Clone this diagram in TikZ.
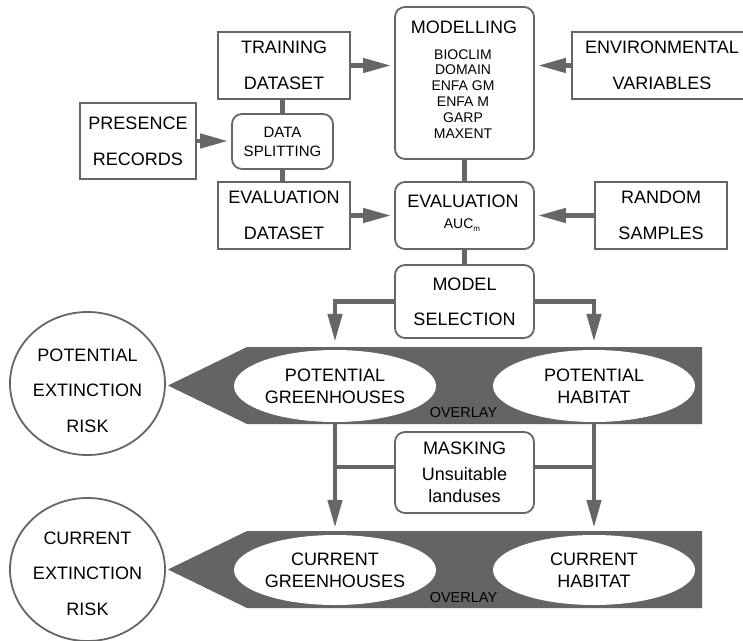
\documentclass[tikz,border=0pt]{standalone}
\usepackage{fontspec}
\setmainfont{Liberation Sans}
\usetikzlibrary{arrows.meta,shapes.geometric}
\definecolor{flowgray}{HTML}{666666}
\definecolor{bandgray}{HTML}{646464}

\begin{document}
\begin{tikzpicture}[x=1pt,y=-1pt,
  lab/.style={font=\fontsize{18}{36}\selectfont, align=center, text=black},
  sqbox/.style={draw=flowgray, line width=1.8pt, fill=white, inner sep=0pt, lab},
  rbox/.style={sqbox, rounded corners=10pt},
  link/.style={draw=flowgray, line width=4.5pt},
  flow/.style={link, -{Triangle[length=28pt,width=14pt]}, shorten >=3pt},
  blob/.style={ellipse, fill=white, inner sep=0pt, minimum width=202pt,
    minimum height=72pt, font=\fontsize{18}{22}\selectfont, align=center},
  risk/.style={ellipse, draw=flowgray, line width=1.8pt, fill=white,
    minimum width=155pt, minimum height=143pt, inner sep=0pt},
  overlaytext/.style={font=\fontsize{14.5}{16}\selectfont, anchor=base},
]
\clip (0,0) rectangle (743,640);
\fill[white] (0,0) rectangle (743,640);

% input boxes
\node[sqbox, minimum width=132pt, minimum height=67pt] (train) at (284,65.5) {TRAINING\\DATASET};
\node[sqbox, minimum width=116pt, minimum height=76pt] (pres) at (138,141) {PRESENCE\\RECORDS};
\node[rbox, minimum width=101pt, minimum height=55pt, font=\fontsize{15}{19}\selectfont] (split) at (282.5,141.5) {DATA\\SPLITTING};
\node[sqbox, minimum width=132pt, minimum height=67pt] (evald) at (284,215.5) {EVALUATION\\DATASET};
\node[sqbox, minimum width=180pt, minimum height=67pt] (env) at (662,65.5) {ENVIRONMENTAL\\VARIABLES};
\node[sqbox, minimum width=132pt, minimum height=67pt] (rand) at (661,215.5) {RANDOM\\SAMPLES};

% modelling box
\node[rbox, minimum width=139pt, minimum height=152pt] (model) at (464.5,83) {};
\node[lab, anchor=base] (modeltitle) at (464,33) {MODELLING};
\node[lab, font=\fontsize{14}{15.8}\selectfont] (modellist) at (463,93.8)
  {BIOCLIM\\DOMAIN\\ENFA GM\\ENFA M\\GARP\\MAXENT};

% evaluation box
\node[rbox, minimum width=139pt, minimum height=67pt] (evalm) at (464.5,215.5) {};
\node[lab, anchor=base] (evaltitle) at (463,207) {EVALUATION};
\node[lab, anchor=base, font=\fontsize{14}{16}\selectfont] (evalauc) at (462,228)
  {AUC\raisebox{-3pt}{\fontsize{8}{8}\selectfont m}};

% selection and masking
\node[rbox, minimum width=139pt, minimum height=73pt, font=\fontsize{18}{35}\selectfont] (msel) at (464.5,301.5) {MODEL\\SELECTION};
\node[rbox, minimum width=139pt, minimum height=81pt, font=\fontsize{18}{22}\selectfont] (mask) at (464.5,472.5) {MASKING\\[4pt]Unsuitable\\landuses};

% overlay bands
\fill[bandgray] (702,347) -- (247,347) -- (168,385.5) -- (247,424) -- (702,424) -- cycle;
\fill[bandgray] (702,531) -- (247,531) -- (168,569.5) -- (247,608) -- (702,608) -- cycle;

\node[blob] (pgh) at (335,386) {POTENTIAL\\GREENHOUSES};
\node[blob] (phab) at (594,386) {POTENTIAL\\HABITAT};
\node[blob, minimum height=70pt] (cgh) at (335,570) {CURRENT\\GREENHOUSES};
\node[blob, minimum height=70pt] (chab) at (594,570) {CURRENT\\HABITAT};
\node[overlaytext] (ov1) at (463.5,417) {OVERLAY};
\node[overlaytext] (ov2) at (463.5,602) {OVERLAY};

% extinction risk circles
\node[risk] (prisk) at (87.5,383.5) {};
\node[lab, font=\fontsize{18}{35.5}\selectfont] (prisktext) at (87.5,390.7) {POTENTIAL\\EXTINCTION\\RISK};
\node[risk] (crisk) at (87.5,569.5) {};
\node[lab, font=\fontsize{18}{35.5}\selectfont] (crisktext) at (87.5,573.3) {CURRENT\\EXTINCTION\\RISK};

% connectors
\draw[flow] (train.east) -- (train.east -| model.west);
\draw[flow] (env.west) -- (env.west -| model.east);
\draw[flow] (pres.east) -- (pres.east -| split.west);
\draw[link] (split.north) -- (split.north |- train.south);
\draw[link] (split.south) -- (split.south |- evald.north);
\draw[flow] (evald.east) -- (evald.east -| evalm.west);
\draw[flow] (rand.west) -- (rand.west -| evalm.east);
\draw[link] (model.south) -- (evalm.north);
\draw[link] (evalm.south) -- (msel.north);
\draw[flow, shorten >=8pt] (msel.west) -| (pgh.north);
\draw[flow, shorten >=8pt] (msel.east) -| (phab.north);
\draw[flow, shorten >=7pt] (pgh.south) -- (cgh.north);
\draw[flow, shorten >=7pt] (phab.south) -- (chab.north);
\draw[link] ([yshift=5.5pt]mask.west) -- ([yshift=5.5pt]mask.west -| pgh.south);
\draw[link] ([yshift=5.5pt]mask.east) -- ([yshift=5.5pt]mask.east -| phab.south);
\end{tikzpicture}
\end{document}
